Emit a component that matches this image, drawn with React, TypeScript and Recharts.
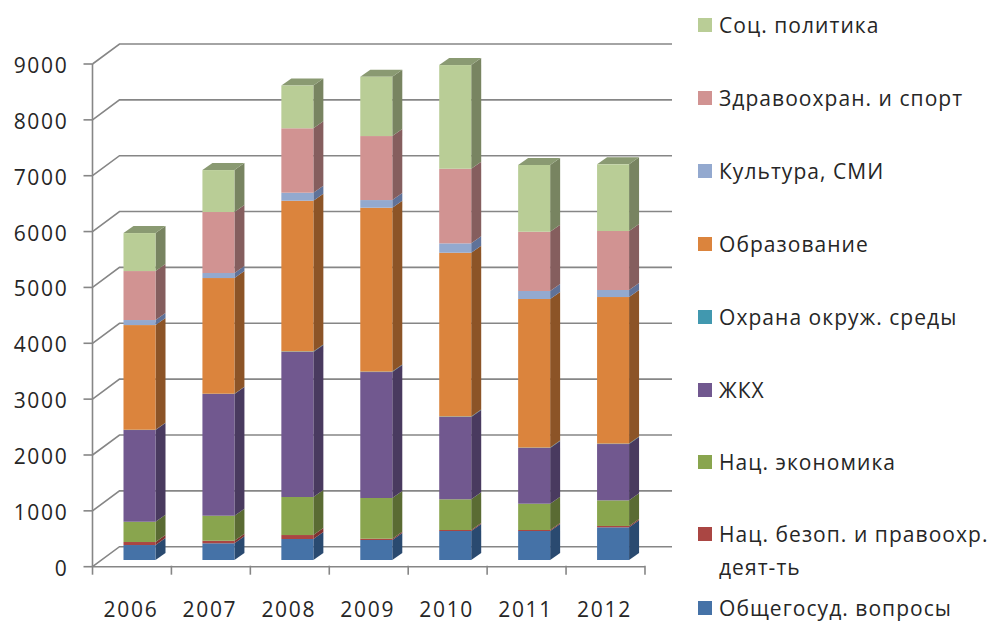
import { BarChart, Bar, CartesianGrid, Legend, XAxis, YAxis } from "recharts";

const YEARS = ["2006", "2007", "2008", "2009", "2010", "2011", "2012"];
const Y_TICKS = [0, 1000, 2000, 3000, 4000, 5000, 6000, 7000, 8000, 9000];

const GENERAL = [268, 299, 376, 358, 519, 519, 585];
const SECURITY = [54, 46, 71, 23, 18, 18, 24];
const ECONOMY = [363, 448, 681, 729, 550, 471, 459];
const HOUSING = [1642, 2179, 2596, 2255, 1473, 997, 1008];
const ENVIRONMENT = [5, 5, 10, 8, 10, 8, 8];
const EDUCATION = [1874, 2071, 2698, 2934, 2931, 2660, 2624];
const CULTURE = [90, 90, 144, 137, 168, 143, 126];
const HEALTH = [877, 1092, 1153, 1146, 1336, 1061, 1056];
const SOCIAL = [680, 751, 766, 1062, 1856, 1195, 1194];

// bottom of the stack first
const SERIES = [
  { key: "general", name: "Общегосуд. вопросы", values: GENERAL, color: "#4572A7", side: "#2A4A70", top: "#34567D" },
  { key: "security", name: "Нац. безоп. и правоохр. деят-ть", values: SECURITY, color: "#AA4643", side: "#7F3230", top: "#803533" },
  { key: "economy", name: "Нац. экономика", values: ECONOMY, color: "#89A54E", side: "#5A6B33", top: "#677C3B" },
  { key: "housing", name: "ЖКХ", values: HOUSING, color: "#71588F", side: "#493A5F", top: "#55426B" },
  { key: "environment", name: "Охрана окруж. среды", values: ENVIRONMENT, color: "#4198AF", side: "#2A6373", top: "#317283" },
  { key: "education", name: "Образование", values: EDUCATION, color: "#DB843D", side: "#8C5427", top: "#A4632E" },
  { key: "culture", name: "Культура, СМИ", values: CULTURE, color: "#93A9CF", side: "#5F7299", top: "#6E7F9B" },
  { key: "health", name: "Здравоохран. и спорт", values: HEALTH, color: "#D19392", side: "#855E5E", top: "#9D6E6E" },
  { key: "social", name: "Соц. политика", values: SOCIAL, color: "#B9CD96", side: "#788461", top: "#8A9A72" },
];

const data = YEARS.map((year, i) => {
  const row: Record<string, string | number> = { year };
  SERIES.forEach((s) => {
    row[s.key] = s.values[i];
  });
  return row;
});

const FONT = "'Open Sans', sans-serif";
const TEXT = "#262626";
const AXIS = "#868686";
const WALL_DX = 27;
const WALL_DY = -20;
const BAR_DX = 8;
const BAR_DY = -6.7;
const DEPTH_X = 10;
const DEPTH_Y = -7;
const BAND = 78.9;

function Box(props: any) {
  const { x, y, width, height, fill, side, top, showTop } = props;
  const fx = x + BAR_DX;
  const fy = y + BAR_DY;
  const r = fx + width;
  const b = fy + height;
  return (
    <g>
      <polygon
        points={`${r},${fy} ${r + DEPTH_X},${fy + DEPTH_Y} ${r + DEPTH_X},${b + DEPTH_Y} ${r},${b}`}
        fill={side}
      />
      {showTop && (
        <polygon
          points={`${fx},${fy} ${fx + DEPTH_X},${fy + DEPTH_Y} ${r + DEPTH_X},${fy + DEPTH_Y} ${r},${fy}`}
          fill={top}
        />
      )}
      <rect x={fx} y={fy} width={width} height={height} fill={fill} />
    </g>
  );
}

function WallLine(props: any) {
  const { x1, x2, y1 } = props;
  const bx = x1 + WALL_DX;
  const by = y1 + WALL_DY;
  return (
    <path
      key={y1}
      d={`M${x1},${y1} L${bx},${by} L${x2 + WALL_DX},${by}`}
      fill="none"
      stroke={AXIS}
      strokeWidth={1.6}
    />
  );
}

function YTick(props: any) {
  const { x, y, payload } = props;
  return (
    <g>
      <line x1={x - 9} x2={x} y1={y} y2={y} stroke={AXIS} strokeWidth={1.6} />
      <text
        x={x - 24}
        y={y + 9}
        textAnchor="end"
        fontFamily={FONT}
        fontSize={21}
        letterSpacing={1.7}
        fill={TEXT}
      >
        {payload.value}
      </text>
    </g>
  );
}

function XTick(props: any) {
  const { x, y, payload, index } = props;
  return (
    <g>
      {index === 0 && (
        <line x1={x - BAND / 2} x2={x - BAND / 2} y1={y - 1} y2={y + 8} stroke={AXIS} strokeWidth={1.6} />
      )}
      <line x1={x + BAND / 2} x2={x + BAND / 2} y1={y - 1} y2={y + 8} stroke={AXIS} strokeWidth={1.6} />
      <text
        x={x - 1}
        y={y + 50}
        textAnchor="middle"
        fontFamily={FONT}
        fontSize={21}
        letterSpacing={1.7}
        fill={TEXT}
      >
        {payload.value}
      </text>
    </g>
  );
}

function LegendList() {
  const items = [...SERIES].reverse();
  return (
    <div style={{ fontFamily: FONT, fontSize: 21, lineHeight: "33px", letterSpacing: 1.05, color: TEXT }}>
      {items.map((item, i) => {
        const wraps = item.name.length > 25;
        return (
          <div
            key={item.key}
            style={{
              position: "relative",
              paddingLeft: 21,
              marginBottom: wraps ? 8 : i >= 5 ? 39 : 40,
              width: 271,
            }}
          >
            <span
              style={{
                position: "absolute",
                left: 0,
                top: 9,
                width: 14,
                height: 14,
                background: item.color,
              }}
            />
            {item.name}
          </div>
        );
      })}
    </div>
  );
}

export default function App() {
  return (
    <div style={{ position: "absolute", left: 0, top: 0, width: 990, height: 622, background: "#fff", overflow: "hidden" }}>
      <BarChart
        width={990}
        height={622}
        data={data}
        barSize={32}
        margin={{ top: 64, right: 345, bottom: 0, left: 0 }}
      >
        <CartesianGrid vertical={false} horizontal={WallLine} syncWithTicks />
        <XAxis
          dataKey="year"
          height={55.3}
          axisLine={{ stroke: AXIS, strokeWidth: 1.6 }}
          tickLine={false}
          tickSize={0}
          tickMargin={0}
          tick={XTick}
          interval={0}
        />
        <YAxis
          width={92.5}
          domain={[0, 9000]}
          ticks={Y_TICKS}
          axisLine={{ stroke: AXIS, strokeWidth: 1.6 }}
          tickLine={false}
          tickSize={0}
          tickMargin={0}
          tick={YTick}
          interval={0}
        />
        <Legend
          layout="vertical"
          align="center"
          verticalAlign="middle"
          wrapperStyle={{ left: 698, top: 9, width: 292, height: "auto" }}
          content={LegendList}
        />
        {SERIES.map((s, i) => (
          <Bar
            key={s.key}
            dataKey={s.key}
            name={s.name}
            stackId="a"
            fill={s.color}
            isAnimationActive={false}
            shape={(p: any) => (
              <Box {...p} side={s.side} top={s.top} showTop={i === SERIES.length - 1} />
            )}
          />
        ))}
      </BarChart>
    </div>
  );
}
